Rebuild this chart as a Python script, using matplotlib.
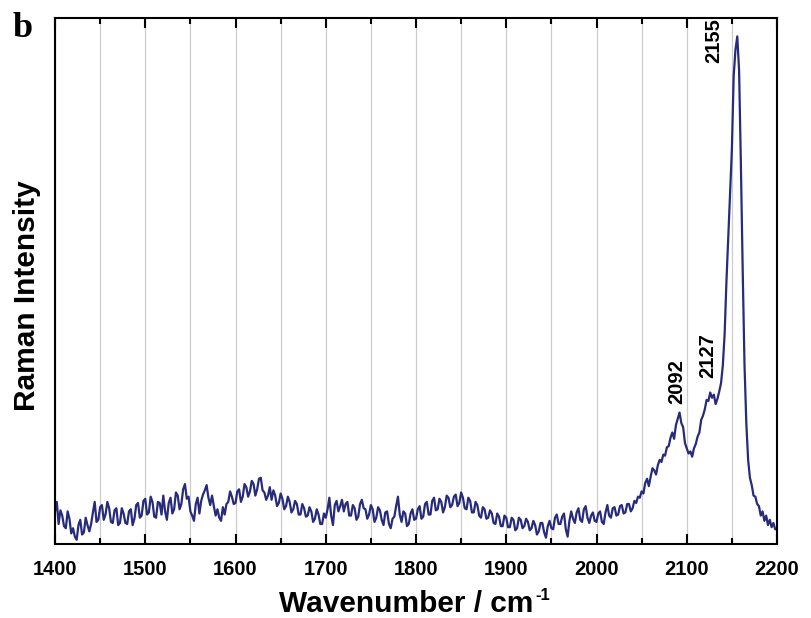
import numpy as np
import matplotlib
matplotlib.use("Agg")
import matplotlib.pyplot as plt
from matplotlib.ticker import MultipleLocator

# Raman spectrum, sampled every 2 cm-1 from 1400 to 2200 (intensity, a.u.)
wavenumber = np.arange(1400, 2201, 2)
intensity = [
    62, 80, 38, 64, 54, 34, 30, 62, 48, 20, 30, 14, 8, 36, 46, 18, 22, 50, 36, 24,
    38, 60, 80, 42, 46, 70, 74, 46, 56, 80, 68, 42, 40, 64, 68, 36, 40, 68, 58, 40,
    38, 62, 66, 36, 48, 74, 78, 50, 54, 82, 86, 56, 60, 90, 80, 52, 50, 80, 78, 56,
    92, 62, 46, 78, 88, 58, 66, 98, 92, 66, 76, 104, 114, 86, 90, 62, 54, 44, 76, 88,
    58, 82, 94, 102, 112, 88, 74, 92, 72, 54, 66, 50, 44, 70, 56, 76, 80, 100, 90, 76,
    78, 100, 104, 80, 90, 114, 108, 90, 100, 120, 114, 92, 104, 124, 126, 102, 98, 84, 92, 108,
    84, 102, 92, 72, 78, 96, 86, 66, 72, 90, 80, 60, 66, 82, 76, 56, 56, 76, 68, 52,
    54, 70, 62, 42, 48, 66, 56, 38, 38, 58, 50, 66, 88, 54, 36, 74, 82, 62, 72, 84,
    62, 76, 80, 54, 54, 74, 68, 46, 52, 76, 84, 68, 66, 48, 56, 74, 66, 42, 50, 70,
    64, 46, 36, 60, 62, 38, 30, 48, 52, 72, 90, 56, 42, 62, 58, 34, 38, 58, 66, 46,
    48, 66, 72, 48, 52, 76, 80, 56, 56, 82, 88, 64, 66, 86, 80, 60, 70, 92, 88, 70,
    74, 90, 94, 72, 78, 98, 88, 68, 66, 88, 82, 60, 60, 80, 74, 54, 50, 70, 66, 48,
    50, 64, 58, 40, 38, 58, 52, 34, 34, 54, 50, 32, 32, 50, 46, 26, 30, 50, 46, 30,
    34, 48, 42, 26, 30, 44, 36, 18, 24, 40, 40, 22, 12, 34, 44, 30, 28, 50, 56, 38,
    38, 52, 58, 28, 14, 44, 62, 48, 40, 60, 68, 46, 42, 66, 72, 50, 40, 54, 60, 44,
    42, 58, 62, 42, 38, 60, 74, 54, 50, 68, 70, 54, 56, 72, 74, 58, 60, 76, 76, 62,
    68, 82, 78, 90, 88, 100, 96, 116, 124, 110, 128, 144, 140, 132, 150, 160, 156, 170, 168, 184,
    186, 202, 212, 200, 226, 238, 250, 230, 222, 192, 182, 172, 176, 166, 182, 190, 204, 212, 236, 244,
    256, 274, 272, 288, 278, 284, 266, 276, 290, 306, 340, 400, 500, 585, 670, 750, 890, 940, 965, 900,
    720, 520, 340, 230, 160, 126, 112, 92, 90, 76, 72, 54, 62, 44, 54, 36, 46, 32, 40, 28,
    28,
]

peak_labels = ["2092", "2127", "2155"]
peak_label_x = [2089, 2123, 2130]
peak_label_y = [308, 359, 958]

W, H = 811, 618
fig = plt.figure(figsize=(W / 100, H / 100), dpi=100)
ax = fig.add_axes([55 / W, 1 - 544 / H, 722 / W, 526 / H])

ax.plot(wavenumber, intensity, color="#272b7a", linewidth=1.6)

ax.set_xlim(1400, 2200)
ax.set_ylim(0, 1000)
ax.xaxis.set_major_locator(MultipleLocator(100))
ax.xaxis.set_minor_locator(MultipleLocator(50))
ax.xaxis.grid(True, which="both", color="#cccccc", linewidth=0.9)
ax.set_axisbelow(True)
ax.set_yticks([])
ax.tick_params(axis="x", which="both", direction="in", top=True, width=1.5)
ax.tick_params(axis="x", which="major", length=7, labelsize=14.5, pad=11.5)
ax.tick_params(axis="x", which="minor", length=4)
for lab in ax.get_xticklabels():
    lab.set_fontweight("bold")
    lab.set_family("Liberation Sans")
for sp in ax.spines.values():
    sp.set_linewidth(1.5)

# axis titles
xl = fig.text(279 / W, 1 - 612 / H, "Wavenumber / cm", fontsize=21.5, fontweight="bold",
              family="Liberation Sans", ha="left", va="baseline")
fig.text(27 / W, 1 - 296 / H, "Raman Intensity", fontsize=21.5, fontweight="bold",
         family="Liberation Sans", rotation=90, ha="center", va="center")
fig.canvas.draw()
bb = xl.get_window_extent()
fig.text((bb.x1 + 2) / W, 1 - 600 / H, "-1", fontsize=12, fontweight="bold",
         family="Liberation Sans", ha="left", va="baseline")

for t, x, y in zip(peak_labels, peak_label_x, peak_label_y):
    ax.text(x, y, t, rotation=90, ha="center", va="center", fontsize=14.5,
            fontweight="bold", family="Liberation Sans")

fig.text(13 / W, 1 - 37 / H, "b", fontsize=26, fontweight="bold", family="Liberation Serif",
         ha="left", va="baseline")

fig.savefig("out.png", dpi=100)
